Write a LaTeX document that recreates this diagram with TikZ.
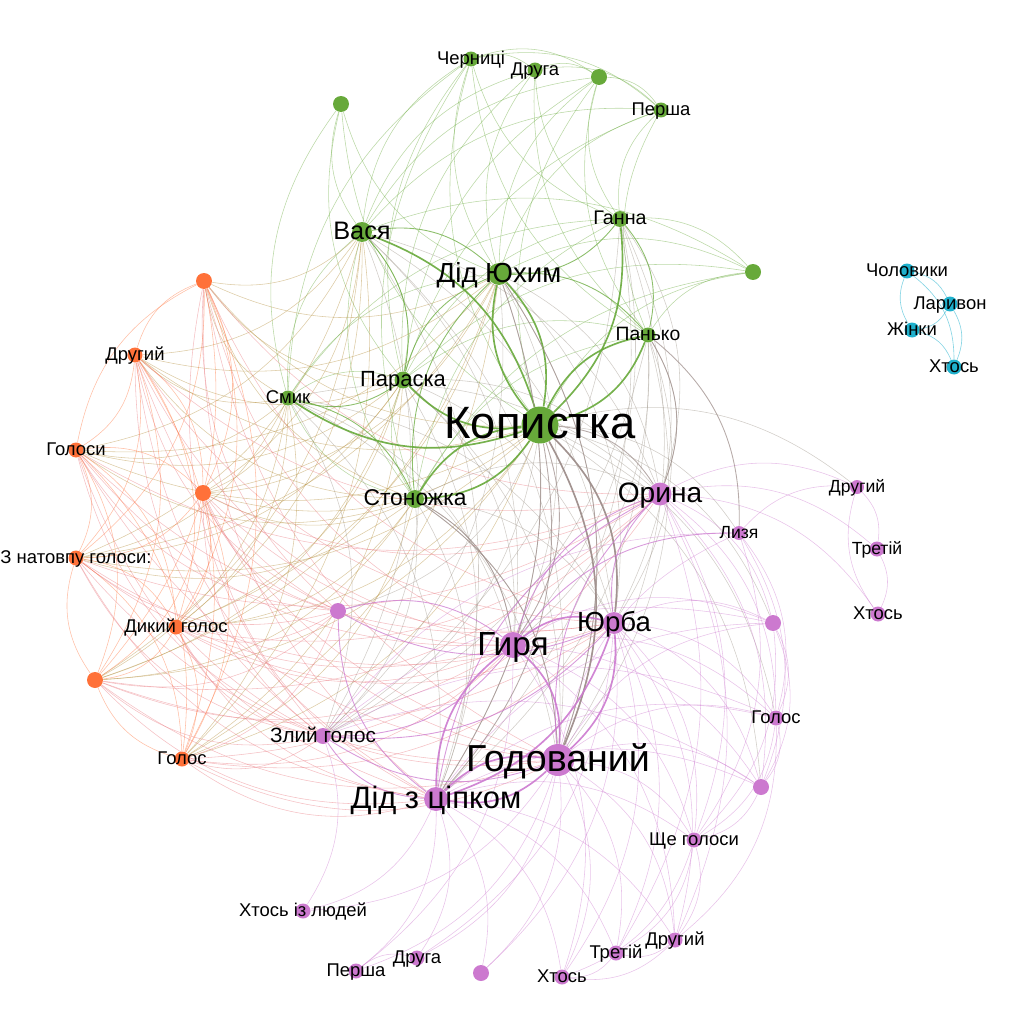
\documentclass[tikz,border=0pt]{standalone}
\usepackage{fontspec}
\setmainfont{Liberation Sans}
\pgfdeclarelayer{edges}
\pgfsetlayers{edges,main}
\definecolor{grn}{HTML}{67A93A}
\definecolor{org}{HTML}{FF7139}
\definecolor{vio}{HTML}{CC79CF}
\definecolor{blu}{HTML}{1FB0CC}
\tikzset{
	pt/.style 2 args={circle,inner sep=0pt,minimum size=#1*0.04cm,fill=#2},
	lb/.style={font=\fontsize{#1}{#1}\selectfont,inner sep=0pt,text=black,text height=#1*.6pt,text depth=0pt},
	thin e/.style={line width=.32pt,opacity=.45},
	thick e/.style={line width=.95pt,opacity=.9},
	mid e/.style={line width=.5pt,opacity=.75},
	every to/.style={bend left=26},
}
\begin{document}
\begin{tikzpicture}[x=0.02cm,y=-0.02cm]
	\useasboundingbox (0,0) rectangle (1024,1024);
	\node[pt={18.5}{grn},label={[lb=25.8]center:Копистка}] (kop) at (540,425) {};
	\node[pt={10}{grn},label={[lb=14.4]center:Вася}] (vas) at (362,232) {};
	\node[pt={11}{grn},label={[lb=15.7]center:Дід Юхим}] (yuk) at (499,274) {};
	\node[pt={8}{grn},label={[lb=11.2]center:Ганна}] (gan) at (620,219) {};
	\node[pt={7.5}{grn},label={[lb=11]center:Панько}] (pan) at (648,335) {};
	\node[pt={8.5}{grn},label={[lb=12.5]center:Параска}] (par) at (403,380) {};
	\node[pt={7.5}{grn},label={[lb=10.5]center:Смик}] (smi) at (288,398) {};
	\node[pt={9}{grn},label={[lb=13]center:Стоножка}] (sto) at (415,499) {};
	\node[pt={7.5}{grn},label={[lb=10.5]center:Черниці}] (che) at (471,59) {};
	\node[pt={7.5}{grn},label={[lb=10.5]center:Друга}] (dru) at (535,70) {};
	\node[pt={8}{grn}] (gA) at (599,77) {};
	\node[pt={7.5}{grn},label={[lb=10.5]center:Перша}] (per) at (661,110) {};
	\node[pt={8}{grn}] (gB) at (341,104) {};
	\node[pt={8}{grn}] (gC) at (753,272) {};
	\node[pt={8}{org}] (oA) at (204,281) {};
	\node[pt={7.5}{org},label={[lb=10.5]center:Другий}] (oDr) at (135,355) {};
	\node[pt={7.5}{org},label={[lb=10.5]center:Голоси}] (oGs) at (76,450) {};
	\node[pt={8}{org}] (oB) at (203,493) {};
	\node[pt={7.5}{org},label={[lb=10.5]center:З натовпу голоси:}] (oNa) at (76,558) {};
	\node[pt={7.5}{org},label={[lb=10.5]center:Дикий голос}] (oDy) at (176,627) {};
	\node[pt={8}{org}] (oC) at (95,680) {};
	\node[pt={7.5}{org},label={[lb=10.5]center:Голос}] (oGl) at (182,759) {};
	\node[pt={11.5}{vio},label={[lb=16]center:Орина}] (ori) at (660,494) {};
	\node[pt={7}{vio},label={[lb=10]center:Лизя}] (liz) at (739,533) {};
	\node[pt={7}{vio},label={[lb=10]center:Другий}] (vDr) at (857,487) {};
	\node[pt={7.5}{vio},label={[lb=10]center:Третій}] (vTr) at (877,549) {};
	\node[pt={7.5}{vio},label={[lb=10.5]center:Хтось}] (vHt) at (878,614) {};
	\node[pt={8}{vio}] (vA) at (773,623) {};
	\node[pt={11}{vio},label={[lb=15.7]center:Юрба}] (yur) at (614,623) {};
	\node[pt={13}{vio},label={[lb=19]center:Гиря}] (gyr) at (513,645) {};
	\node[pt={8}{vio}] (vB) at (338,611) {};
	\node[pt={7.5}{vio},label={[lb=10.5]center:Голос}] (vGl) at (776,718) {};
	\node[pt={8}{vio}] (vC) at (761,787) {};
	\node[pt={8}{vio},label={[lb=11.8]center:Злий голос}] (zly) at (323,736) {};
	\node[pt={16}{vio},label={[lb=21.4]center:Годований}] (god) at (558,760) {};
	\node[pt={12}{vio},label={[lb=17.6]center:Дід з ціпком}] (did) at (436,799) {};
	\node[pt={7.5}{vio},label={[lb=10.5]center:Ще голоси}] (she) at (694,840) {};
	\node[pt={7.5}{vio},label={[lb=10.5]center:Хтось із людей}] (hil) at (303,911) {};
	\node[pt={7.5}{vio},label={[lb=10.5]center:Перша}] (vPe) at (356,971) {};
	\node[pt={7.5}{vio},label={[lb=10.5]center:Друга}] (vDg) at (417,958) {};
	\node[pt={8}{vio}] (vD) at (481,973) {};
	\node[pt={7.5}{vio},label={[lb=10.5]center:Хтось}] (vXt) at (562,977) {};
	\node[pt={7.5}{vio},label={[lb=10.5]center:Третій}] (vTe) at (616,953) {};
	\node[pt={7.5}{vio},label={[lb=10.5]center:Другий}] (vDu) at (675,940) {};
	\node[pt={7.5}{blu},label={[lb=10.5]center:Чоловики}] (cho) at (907,271) {};
	\node[pt={7.5}{blu},label={[lb=10.5]center:Ларивон}] (lar) at (950,304) {};
	\node[pt={7.5}{blu},label={[lb=10.5]center:Жінки}] (zhi) at (912,330) {};
	\node[pt={7.5}{blu},label={[lb=10.5]center:Хтось}] (xto) at (954,367) {};
	\begin{pgfonlayer}{edges}
		\foreach \a in {vas,yuk,gan,pan,par}
			\foreach \b in {che,dru,gA,per,gC}
				\draw[thin e,grn] (\a) to (\b);
		\foreach \a/\b in {vas/gB,yuk/gB,par/gB,kop/gB,kop/che,kop/gA,kop/gC,sto/gC,sto/che,smi/che,smi/gB,che/gA,che/dru,dru/gA,dru/per,che/per,gA/per,vas/par,smi/vas,smi/par,sto/par,sto/vas,sto/smi,sto/pan,sto/gan,par/gan,par/pan,smi/gan,smi/yuk}
			\draw[thin e,grn] (\a) to (\b);
		\foreach \a in {kop,vas,yuk,par,smi,sto}
			\foreach \b in {oA,oDr,oGs,oB,oNa,oDy,oC,oGl}
				\draw[thin e,grn!50!org] (\a) to (\b);
		\foreach \a in {zly,did,god,gyr,yur,ori,vB}
			\foreach \b in {oA,oDr,oGs,oB,oNa,oDy,oC,oGl}
				\draw[thin e,vio!45!org] (\a) to (\b);
		\foreach \a/\b in {oGl/oC,oC/oNa,oGs/oNa,oGs/oA,oDr/oA,oDr/oGs,oA/oB,oA/oDy,oA/oGl,oDr/oB,oDr/oDy,oDr/oGl,oDr/oC,oDr/oNa,oA/oC,oA/oNa,oGs/oB,oGs/oDy,oGs/oC,oGs/oGl,oB/oNa,oB/oDy,oB/oC,oB/oGl,oNa/oDy,oNa/oGl,oDy/oC,oDy/oGl}
			\draw[thin e,org] (\a) to (\b);
		\foreach \a in {vas,yuk,par,sto,smi,gan,pan}
			\foreach \b in {gyr,god,did,ori,yur,zly}
				\draw[thin e,grn!50!vio] (\a) to (\b);
		\foreach \b in {liz,vA,vGl,vC,vB,zly,vDr}
			\draw[thin e,grn!50!vio] (kop) to (\b);
		\foreach \a/\b in {did/hil,did/vPe,did/vDg,did/vD,did/vXt,did/vTe,did/vDu,did/she,god/hil,god/vPe,god/vDg,god/vD,god/vXt,god/vTe,god/vDu,god/she,god/vC,god/vGl,god/vA,god/liz,gyr/vPe,gyr/vXt,gyr/vDu,gyr/she,gyr/vC,gyr/vGl,gyr/vA,yur/vDg,yur/vD,yur/vXt,yur/vTe,yur/vDu,yur/she,yur/vC,yur/vGl,yur/vA,ori/she,ori/vC,ori/vGl,ori/vA,ori/vDu,ori/vTe,zly/hil,zly/liz,zly/vC,zly/vA,zly/vGl,did/vGl,did/vC,did/vA}
			\draw[thin e,vio] (\a) to (\b);
		\foreach \a/\b in {ori/vDr,ori/vTr,ori/vHt,vDr/vTr,vHt/vDr,vTr/vHt,liz/vDr,liz/vC,liz/she,liz/vGl,vGl/vC,vC/she,vA/vGl,vA/she,vA/vC,she/vDu,she/vTe,she/vXt,vDu/vXt,vTe/vXt,vDu/vTe,vPe/vDg,vGl/she,vGl/vDu}
			\draw[thin e,vio] (\a) to (\b);
		\foreach \a/\b in {gan/yuk,yuk/pan,par/yuk,vas/yuk,vas/par,par/smi,gan/pan,sto/yuk,smi/sto}
			\draw[mid e,grn] (\a) to (\b);
		\foreach \a/\b in {vas/kop,kop/yuk,gan/kop,kop/par,kop/smi,kop/pan,pan/kop,yuk/kop,sto/kop,kop/sto}
			\draw[thick e,grn] (\a) to (\b);
		\foreach \a/\b in {kop/ori,kop/yur,kop/gyr,kop/god,kop/did,pan/liz,sto/gyr,sto/god,yuk/god,pan/ori,yuk/did}
			\draw[mid e,grn!45!vio] (\a) to (\b);
		\foreach \a/\b in {kop/yur,kop/god}
			\draw[thick e,grn!45!vio] (\a) to (\b);
		\foreach \a/\b in {gyr/liz,gyr/ori,yur/ori,did/zly,god/zly,gyr/zly,vB/gyr,did/vB,yur/vB,did/ori,god/ori,yur/zly}
			\draw[mid e,vio] (\a) to (\b);
		\foreach \a/\b in {gyr/god,yur/god,god/did,did/god,did/gyr,gyr/yur,yur/did}
			\draw[thick e,vio] (\a) to (\b);
		\foreach \a/\b in {zhi/cho,cho/lar,lar/zhi,zhi/xto,lar/xto,cho/xto}
			\draw[line width=.35pt,opacity=.55,blu] (\a) to (\b);
	\end{pgfonlayer}
\end{tikzpicture}
\end{document}
